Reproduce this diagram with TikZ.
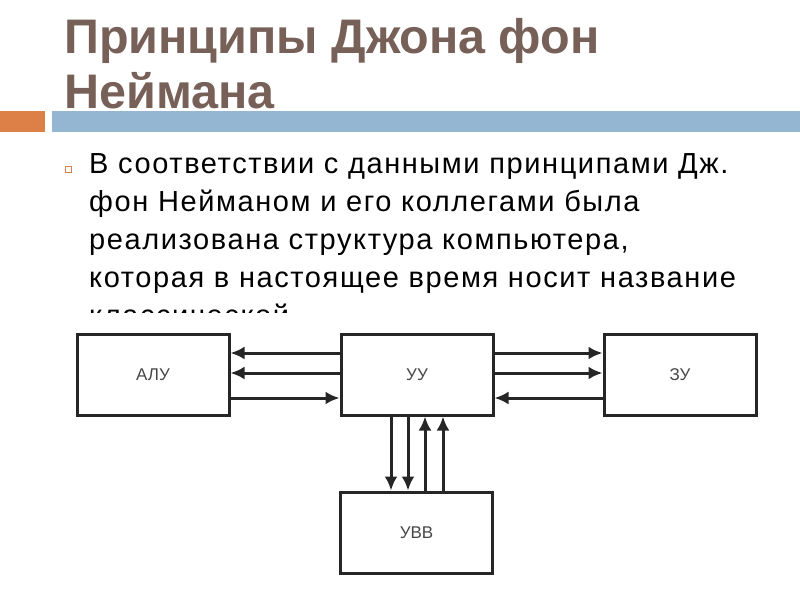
\documentclass[tikz,border=0pt]{standalone}
\usepackage{fontspec}
\setmainfont{Liberation Sans}
\usetikzlibrary{arrows.meta}

\definecolor{ttl}{RGB}{118,96,88}
\definecolor{orng}{RGB}{221,128,71}
\definecolor{blu}{RGB}{148,182,210}
\definecolor{lbl}{RGB}{70,70,70}

\begin{document}
\begin{tikzpicture}[x=1pt, y=-1pt]
		\tikzset{blk/.style={draw=black!85, line width=3pt, minimum width=152pt, minimum height=81pt, inner sep=0pt, font=\fontsize{17}{17}\selectfont, text=lbl}};
		\tikzset{bus/.style={draw=black!85, line width=3pt, -{Latex[length=14pt, width=13pt]}}};
		\tikzset{txt/.style={anchor=base west, inner sep=0pt, font=\addfontfeatures{LetterSpace=5.5}\fontsize{29}{29}\selectfont}};
		\tikzset{ttlx/.style={anchor=base west, inner sep=0pt, text=ttl, font=\fontsize{48.5}{48.5}\bfseries}};

		\useasboundingbox (0,0) rectangle (800,600);

		% title
		\node[ttlx] (t1) at (64,53) {Принципы Джона фон};
		\node[ttlx] (t2) at (64,108) {Неймана};
		\fill[orng] (0,111) rectangle (45,132);
		\fill[blu] (52,111) rectangle (800,132);

		% text
		\draw[orng, line width=0.6pt] (65,166) rectangle (71,172);
		\node[txt] (l1) at (89,173) {В соответствии с данными принципами Дж.};
		\node[txt] (l2) at (89,211) {фон Нейманом и его коллегами была};
		\node[txt] (l3) at (89,249) {реализована структура компьютера,};
		\node[txt] (l4) at (89,287) {которая в настоящее время носит название};
		\begin{scope}
			\clip (0,0) rectangle (800,312);
			\node[txt] (l5) at (89,325) {классической};
		\end{scope}

		% blocks
		\node[blk] (alu) at (153,374.5) {АЛУ};
		\node[blk] (uu) at (417,374.5) {УУ};
		\node[blk] (zu) at (680,374.5) {ЗУ};
		\node[blk] (uvv) at (416.5,532.5) {УВВ};

		\draw[bus] ([yshift=21.5pt]uu.west) -- ([yshift=21.5pt]alu.east);
		\draw[bus] ([yshift=1.5pt]uu.west) -- ([yshift=1.5pt]alu.east);
		\draw[bus] ([yshift=-23.5pt]alu.east) -- ([yshift=-23.5pt]uu.west);

		\draw[bus] ([yshift=21.5pt]uu.east) -- ([yshift=21.5pt]zu.west);
		\draw[bus] ([yshift=1.5pt]uu.east) -- ([yshift=1.5pt]zu.west);
		\draw[bus] ([yshift=-23.5pt]zu.west) -- ([yshift=-23.5pt]uu.east);

		\draw[bus] ([xshift=-26pt]uu.south) -- ([xshift=-25.5pt]uvv.north);
		\draw[bus] ([xshift=-9pt]uu.south) -- ([xshift=-8.5pt]uvv.north);
		\draw[bus] ([xshift=8.5pt]uvv.north) -- ([xshift=8pt]uu.south);
		\draw[bus] ([xshift=26.5pt]uvv.north) -- ([xshift=26pt]uu.south);


	\end{tikzpicture}
\end{document}
